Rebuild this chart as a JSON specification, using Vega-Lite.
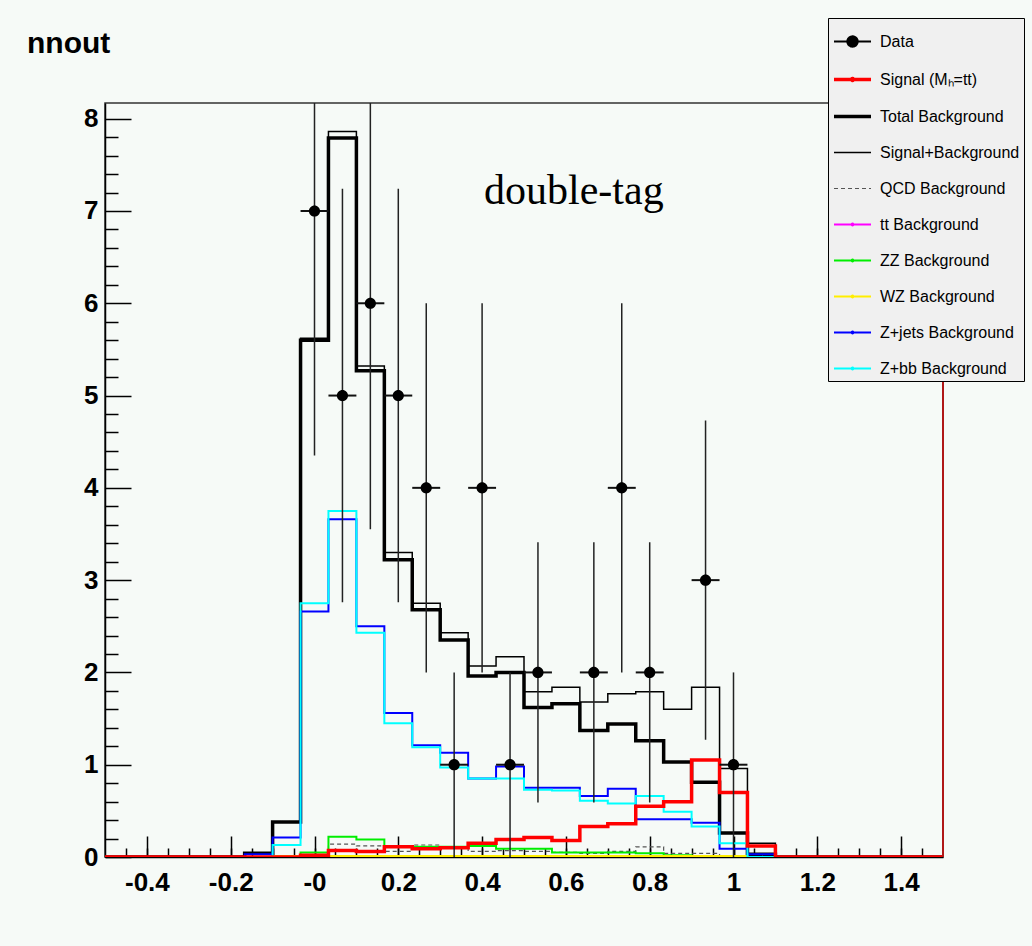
{
  "$schema": "https://vega.github.io/schema/vega-lite/v6.json",
  "width": 838,
  "height": 754,
  "autosize": {"type": "none"},
  "padding": {"left": 105, "top": 103, "right": 89, "bottom": 89},
  "background": "#f6faf7",
  "config": {"view": {"stroke": "#333333", "strokeWidth": 1.5}, "axis": {"grid": false}},
  "title": {"text": "nnout", "anchor": "start", "frame": "group", "dx": -78, "offset": 0, "dy": 65, "baseline": "alphabetic", "font": "Liberation Sans", "fontWeight": "bold", "fontSize": 30, "color": "#000000"},
  "datasets": {
    "hist": [
      {"lo": -0.5, "tot": 0, "sb": 0, "sig": 0, "qcd": 0, "tt": 0, "zz": 0, "wz": 0, "zjets": 0, "zbb": 0},
      {"lo": -0.4333, "tot": 0, "sb": 0, "sig": 0, "qcd": 0, "tt": 0, "zz": 0, "wz": 0, "zjets": 0, "zbb": 0},
      {"lo": -0.3667, "tot": 0, "sb": 0, "sig": 0, "qcd": 0, "tt": 0, "zz": 0, "wz": 0, "zjets": 0, "zbb": 0},
      {"lo": -0.3, "tot": 0, "sb": 0, "sig": 0, "qcd": 0, "tt": 0, "zz": 0, "wz": 0, "zjets": 0, "zbb": 0},
      {"lo": -0.2333, "tot": 0, "sb": 0, "sig": 0, "qcd": 0, "tt": 0, "zz": 0, "wz": 0, "zjets": 0, "zbb": 0},
      {"lo": -0.1667, "tot": 0.04, "sb": 0.04, "sig": 0, "qcd": 0, "tt": 0, "zz": 0, "wz": 0, "zjets": 0.03, "zbb": 0},
      {"lo": -0.1, "tot": 0.38, "sb": 0.38, "sig": 0, "qcd": 0, "tt": 0, "zz": 0.01, "wz": 0.01, "zjets": 0.21, "zbb": 0.13},
      {"lo": -0.0333, "tot": 5.6, "sb": 5.62, "sig": 0.02, "qcd": 0.02, "tt": 0, "zz": 0.05, "wz": 0.01, "zjets": 2.66, "zbb": 2.75},
      {"lo": 0.0333, "tot": 7.79, "sb": 7.86, "sig": 0.07, "qcd": 0.14, "tt": 0.005, "zz": 0.22, "wz": 0.01, "zjets": 3.66, "zbb": 3.75},
      {"lo": 0.1, "tot": 5.27, "sb": 5.32, "sig": 0.06, "qcd": 0.12, "tt": 0.005, "zz": 0.19, "wz": 0.01, "zjets": 2.5, "zbb": 2.43},
      {"lo": 0.1667, "tot": 3.22, "sb": 3.3, "sig": 0.11, "qcd": 0.06, "tt": 0.005, "zz": 0.12, "wz": 0.01, "zjets": 1.56, "zbb": 1.45},
      {"lo": 0.2333, "tot": 2.68, "sb": 2.75, "sig": 0.09, "qcd": 0.13, "tt": 0.005, "zz": 0.11, "wz": 0.01, "zjets": 1.21, "zbb": 1.19},
      {"lo": 0.3, "tot": 2.35, "sb": 2.43, "sig": 0.1, "qcd": 0.11, "tt": 0.005, "zz": 0.11, "wz": 0.01, "zjets": 1.13, "zbb": 0.97},
      {"lo": 0.3667, "tot": 1.96, "sb": 2.07, "sig": 0.15, "qcd": 0.06, "tt": 0.005, "zz": 0.12, "wz": 0.01, "zjets": 0.85, "zbb": 0.85},
      {"lo": 0.4333, "tot": 2.0, "sb": 2.17, "sig": 0.19, "qcd": 0.07, "tt": 0, "zz": 0.09, "wz": 0.01, "zjets": 0.98, "zbb": 0.85},
      {"lo": 0.5, "tot": 1.62, "sb": 1.79, "sig": 0.21, "qcd": 0.06, "tt": 0, "zz": 0.09, "wz": 0.01, "zjets": 0.75, "zbb": 0.73},
      {"lo": 0.5667, "tot": 1.66, "sb": 1.84, "sig": 0.18, "qcd": 0.05, "tt": 0, "zz": 0.05, "wz": 0.01, "zjets": 0.75, "zbb": 0.72},
      {"lo": 0.6333, "tot": 1.37, "sb": 1.68, "sig": 0.33, "qcd": 0.04, "tt": 0, "zz": 0.05, "wz": 0.01, "zjets": 0.66, "zbb": 0.61},
      {"lo": 0.7, "tot": 1.44, "sb": 1.77, "sig": 0.36, "qcd": 0.06, "tt": 0, "zz": 0.05, "wz": 0.01, "zjets": 0.74, "zbb": 0.58},
      {"lo": 0.7667, "tot": 1.26, "sb": 1.79, "sig": 0.55, "qcd": 0.11, "tt": 0, "zz": 0.04, "wz": 0.01, "zjets": 0.41, "zbb": 0.66},
      {"lo": 0.8333, "tot": 1.03, "sb": 1.6, "sig": 0.6, "qcd": 0.04, "tt": 0, "zz": 0.02, "wz": 0.01, "zjets": 0.41, "zbb": 0.49},
      {"lo": 0.9, "tot": 0.81, "sb": 1.84, "sig": 1.05, "qcd": 0.04, "tt": 0, "zz": 0.01, "wz": 0.01, "zjets": 0.37, "zbb": 0.33},
      {"lo": 0.9667, "tot": 0.26, "sb": 0.96, "sig": 0.7, "qcd": 0.01, "tt": 0, "zz": 0, "wz": 0.01, "zjets": 0.09, "zbb": 0.15},
      {"lo": 1.0333, "tot": 0.03, "sb": 0.15, "sig": 0.12, "qcd": 0, "tt": 0, "zz": 0, "wz": 0, "zjets": 0.03, "zbb": 0},
      {"lo": 1.1, "tot": 0, "sb": 0, "sig": 0, "qcd": 0, "tt": 0, "zz": 0, "wz": 0, "zjets": 0, "zbb": 0},
      {"lo": 1.1667, "tot": 0, "sb": 0, "sig": 0, "qcd": 0, "tt": 0, "zz": 0, "wz": 0, "zjets": 0, "zbb": 0},
      {"lo": 1.2333, "tot": 0, "sb": 0, "sig": 0, "qcd": 0, "tt": 0, "zz": 0, "wz": 0, "zjets": 0, "zbb": 0},
      {"lo": 1.3, "tot": 0, "sb": 0, "sig": 0, "qcd": 0, "tt": 0, "zz": 0, "wz": 0, "zjets": 0, "zbb": 0},
      {"lo": 1.3667, "tot": 0, "sb": 0, "sig": 0, "qcd": 0, "tt": 0, "zz": 0, "wz": 0, "zjets": 0, "zbb": 0},
      {"lo": 1.4333, "tot": 0, "sb": 0, "sig": 0, "qcd": 0, "tt": 0, "zz": 0, "wz": 0, "zjets": 0, "zbb": 0},
      {"lo": 1.5, "tot": 0, "sb": 0, "sig": 0, "qcd": 0, "tt": 0, "zz": 0, "wz": 0, "zjets": 0, "zbb": 0}
    ],
    "pts": [
      {"x": 0, "n": 7, "ylo": 4.35, "yhi": 9.65, "xlo": -0.0333, "xhi": 0.0333},
      {"x": 0.0667, "n": 5, "ylo": 2.76, "yhi": 7.24, "xlo": 0.0333, "xhi": 0.1},
      {"x": 0.1333, "n": 6, "ylo": 3.55, "yhi": 8.45, "xlo": 0.1, "xhi": 0.1667},
      {"x": 0.2, "n": 5, "ylo": 2.76, "yhi": 7.24, "xlo": 0.1667, "xhi": 0.2333},
      {"x": 0.2667, "n": 4, "ylo": 2, "yhi": 6, "xlo": 0.2333, "xhi": 0.3},
      {"x": 0.3333, "n": 1, "ylo": 0, "yhi": 2, "xlo": 0.3, "xhi": 0.3667},
      {"x": 0.4, "n": 4, "ylo": 2, "yhi": 6, "xlo": 0.3667, "xhi": 0.4333},
      {"x": 0.4667, "n": 1, "ylo": 0, "yhi": 2, "xlo": 0.4333, "xhi": 0.5},
      {"x": 0.5333, "n": 2, "ylo": 0.59, "yhi": 3.41, "xlo": 0.5, "xhi": 0.5667},
      {"x": 0.6667, "n": 2, "ylo": 0.59, "yhi": 3.41, "xlo": 0.6333, "xhi": 0.7},
      {"x": 0.7333, "n": 4, "ylo": 2, "yhi": 6, "xlo": 0.7, "xhi": 0.7667},
      {"x": 0.8, "n": 2, "ylo": 0.59, "yhi": 3.41, "xlo": 0.7667, "xhi": 0.8333},
      {"x": 0.9333, "n": 3, "ylo": 1.27, "yhi": 4.73, "xlo": 0.9, "xhi": 0.9667},
      {"x": 1.0, "n": 1, "ylo": 0, "yhi": 2, "xlo": 0.9667, "xhi": 1.0333}
    ]
  },
  "resolve": {"axis": {"x": "independent", "y": "independent"}},
  "layer": [
    {
      "data": {"values": [{"label": "double-tag"}]},
      "mark": {"type": "text", "font": "Liberation Serif", "fontSize": 42, "align": "center", "baseline": "alphabetic", "color": "#000000"},
      "encoding": {
        "x": {"datum": 0.619, "type": "quantitative", "scale": {"domain": [-0.5, 1.5], "nice": false, "zero": false},
          "axis": {"orient": "bottom", "values": [-0.45, -0.4, -0.35, -0.3, -0.25, -0.2, -0.15, -0.1, -0.05, 0, 0.05, 0.1, 0.15, 0.2, 0.25, 0.3, 0.35, 0.4, 0.45, 0.5, 0.55, 0.6, 0.65, 0.7, 0.75, 0.8, 0.85, 0.9, 0.95, 1, 1.05, 1.1, 1.15, 1.2, 1.25, 1.3, 1.35, 1.4, 1.45], "tickSize": -9, "tickColor": "#000000", "tickWidth": 1.5, "labels": false, "domain": false, "title": null, "grid": false}},
        "y": {"datum": 7.08, "type": "quantitative", "scale": {"domain": [0, 8.17], "nice": false, "zero": false},
          "axis": {"orient": "left", "values": [0.2, 0.4, 0.6, 0.8, 1.2, 1.4, 1.6, 1.8, 2.2, 2.4, 2.6, 2.8, 3.2, 3.4, 3.6, 3.8, 4.2, 4.4, 4.6, 4.8, 5.2, 5.4, 5.6, 5.8, 6.2, 6.4, 6.6, 6.8, 7.2, 7.4, 7.6, 7.8], "tickSize": -13, "tickColor": "#000000", "tickWidth": 1.5, "labels": false, "domain": false, "title": null, "grid": false}},
        "text": {"field": "label", "type": "nominal"}
      }
    },
    {
      "data": {"name": "hist"},
      "transform": [{"fold": ["tot", "sb", "qcd", "tt", "zz", "wz", "zjets", "zbb", "sig"], "as": ["series", "value"]}],
      "mark": {"type": "line", "interpolate": "step-after", "clip": true},
      "encoding": {
        "x": {"field": "lo", "type": "quantitative", "scale": {"domain": [-0.5, 1.5], "nice": false, "zero": false},
          "axis": {"orient": "bottom", "values": [-0.4, -0.2, 0, 0.2, 0.4, 0.6, 0.8, 1, 1.2, 1.4], "tickSize": -21, "tickColor": "#000000", "tickWidth": 1.5, "domainColor": "#000000", "domainWidth": 1.5, "labelFont": "Liberation Sans", "labelFontWeight": "bold", "labelFontSize": 26, "labelColor": "#000000", "labelPadding": 33, "labelFlush": false, "labelOverlap": false, "labelExpr": "datum.value == 0 ? '-0' : replace(format(datum.value, '~g'), '\u2212', '-')", "title": null, "grid": false}},
        "y": {"field": "value", "type": "quantitative", "scale": {"domain": [0, 8.17], "nice": false, "zero": false},
          "axis": {"orient": "left", "values": [0, 1, 2, 3, 4, 5, 6, 7, 8], "tickSize": -26, "tickColor": "#000000", "tickWidth": 1.5, "domainColor": "#000000", "domainWidth": 1.5, "labelFont": "Liberation Sans", "labelFontWeight": "bold", "labelFontSize": 26, "labelColor": "#000000", "labelPadding": 33, "labelFlush": false, "labelOverlap": false, "format": "d", "title": null, "grid": false}},
        "color": {"field": "series", "type": "nominal",
          "scale": {"domain": ["data", "sig", "tot", "sb", "qcd", "tt", "zz", "wz", "zjets", "zbb"], "range": ["#000000", "#ff0000", "#000000", "#000000", "#555555", "#ff00ff", "#00ee00", "#ffee00", "#0000ff", "#00ffff"]},
          "legend": {"title": null, "orient": "none", "legendX": 723, "legendY": -85, "symbolType": "stroke", "symbolSize": 1369, "symbolFillColor": "#000000", "labelFont": "Liberation Sans", "labelFontSize": 16, "labelColor": "#000000", "fillColor": "#f0f0f0", "strokeColor": "#000000", "padding": 4, "rowPadding": 8, "labelOffset": 7, "labelLimit": 400, "labelExpr": "{'data':'Data','sig':'Signal (Mₕ=tt)','tot':'Total Background','sb':'Signal+Background','qcd':'QCD Background','tt':'tt Background','zz':'ZZ Background','wz':'WZ Background','zjets':'Z+jets Background','zbb':'Z+bb Background'}[datum.label]"}},
        "strokeWidth": {"field": "series", "type": "nominal",
          "scale": {"type": "ordinal", "domain": ["data", "sig", "tot", "sb", "qcd", "tt", "zz", "wz", "zjets", "zbb"], "range": [2, 3.5, 3.5, 1.5, 1.2, 2, 2, 2, 2, 2]},
          "legend": {"title": null, "orient": "none", "legendX": 723, "legendY": -85, "symbolType": "stroke", "symbolSize": 1369, "symbolFillColor": "#000000", "labelFont": "Liberation Sans", "labelFontSize": 16, "labelColor": "#000000", "fillColor": "#f0f0f0", "strokeColor": "#000000", "padding": 4, "rowPadding": 8, "labelOffset": 7, "labelLimit": 400, "labelExpr": "{'data':'Data','sig':'Signal (Mₕ=tt)','tot':'Total Background','sb':'Signal+Background','qcd':'QCD Background','tt':'tt Background','zz':'ZZ Background','wz':'WZ Background','zjets':'Z+jets Background','zbb':'Z+bb Background'}[datum.label]"}},
        "strokeDash": {"field": "series", "type": "nominal",
          "scale": {"domain": ["data", "sig", "tot", "sb", "qcd", "tt", "zz", "wz", "zjets", "zbb"], "range": [[1, 0], [1, 0], [1, 0], [1, 0], [4, 3], [1, 0], [1, 0], [1, 0], [1, 0], [1, 0]]},
          "legend": {"title": null, "orient": "none", "legendX": 723, "legendY": -85, "symbolType": "stroke", "symbolSize": 1369, "symbolFillColor": "#000000", "labelFont": "Liberation Sans", "labelFontSize": 16, "labelColor": "#000000", "fillColor": "#f0f0f0", "strokeColor": "#000000", "padding": 4, "rowPadding": 8, "labelOffset": 7, "labelLimit": 400, "labelExpr": "{'data':'Data','sig':'Signal (Mₕ=tt)','tot':'Total Background','sb':'Signal+Background','qcd':'QCD Background','tt':'tt Background','zz':'ZZ Background','wz':'WZ Background','zjets':'Z+jets Background','zbb':'Z+bb Background'}[datum.label]"}}
      }
    },
    {
      "data": {"name": "pts"},
      "mark": {"type": "rule", "color": "#222222", "strokeWidth": 1.5, "clip": true},
      "encoding": {
        "x": {"field": "x", "type": "quantitative", "scale": {"domain": [-0.5, 1.5], "nice": false, "zero": false}, "axis": null},
        "y": {"field": "ylo", "type": "quantitative", "scale": {"domain": [0, 8.17], "nice": false, "zero": false}, "axis": null},
        "y2": {"field": "yhi"}
      }
    },
    {
      "data": {"name": "pts"},
      "mark": {"type": "rule", "color": "#111111", "strokeWidth": 2, "clip": true},
      "encoding": {
        "x": {"field": "xlo", "type": "quantitative", "scale": {"domain": [-0.5, 1.5], "nice": false, "zero": false}, "axis": null},
        "x2": {"field": "xhi"},
        "y": {"field": "n", "type": "quantitative", "scale": {"domain": [0, 8.17], "nice": false, "zero": false}, "axis": null}
      }
    },
    {
      "data": {"name": "pts"},
      "mark": {"type": "point", "filled": true, "size": 1600, "opacity": 1},
      "encoding": {
        "x": {"field": "x", "type": "quantitative", "scale": {"domain": [-0.5, 1.5], "nice": false, "zero": false}, "axis": null},
        "y": {"field": "n", "type": "quantitative", "scale": {"domain": [0, 8.17], "nice": false, "zero": false}, "axis": null},
        "color": {"datum": "data", "type": "nominal",
          "legend": {"title": null, "orient": "none", "legendX": 723, "legendY": -85, "symbolType": "stroke", "symbolSize": 1369, "symbolFillColor": "#000000", "labelFont": "Liberation Sans", "labelFontSize": 16, "labelColor": "#000000", "fillColor": "#f0f0f0", "strokeColor": "#000000", "padding": 4, "rowPadding": 8, "labelOffset": 7, "labelLimit": 400, "labelExpr": "{'data':'Data','sig':'Signal (Mₕ=tt)','tot':'Total Background','sb':'Signal+Background','qcd':'QCD Background','tt':'tt Background','zz':'ZZ Background','wz':'WZ Background','zjets':'Z+jets Background','zbb':'Z+bb Background'}[datum.label]"}},
        "shape": {"datum": "data", "type": "nominal",
          "scale": {"domain": ["data", "sig", "tot", "sb", "qcd", "tt", "zz", "wz", "zjets", "zbb"], "range": ["M-1,0H1M-0.28,0A0.28,0.28,0,1,0,0.28,0A0.28,0.28,0,1,0,-0.28,0Z", "M-1,0H1M-0.05,0A0.05,0.05,0,1,0,0.05,0A0.05,0.05,0,1,0,-0.05,0Z", "stroke", "stroke", "stroke", "M-1,0H1M-0.05,0A0.05,0.05,0,1,0,0.05,0A0.05,0.05,0,1,0,-0.05,0Z", "M-1,0H1M-0.05,0A0.05,0.05,0,1,0,0.05,0A0.05,0.05,0,1,0,-0.05,0Z", "M-1,0H1M-0.05,0A0.05,0.05,0,1,0,0.05,0A0.05,0.05,0,1,0,-0.05,0Z", "M-1,0H1M-0.05,0A0.05,0.05,0,1,0,0.05,0A0.05,0.05,0,1,0,-0.05,0Z", "M-1,0H1M-0.05,0A0.05,0.05,0,1,0,0.05,0A0.05,0.05,0,1,0,-0.05,0Z"]},
          "legend": {"title": null, "orient": "none", "legendX": 723, "legendY": -85, "symbolType": "stroke", "symbolSize": 1369, "symbolFillColor": "#000000", "labelFont": "Liberation Sans", "labelFontSize": 16, "labelColor": "#000000", "fillColor": "#f0f0f0", "strokeColor": "#000000", "padding": 4, "rowPadding": 8, "labelOffset": 7, "labelLimit": 400, "labelExpr": "{'data':'Data','sig':'Signal (Mₕ=tt)','tot':'Total Background','sb':'Signal+Background','qcd':'QCD Background','tt':'tt Background','zz':'ZZ Background','wz':'WZ Background','zjets':'Z+jets Background','zbb':'Z+bb Background'}[datum.label]"}}
      }
    },
    {
      "data": {"values": [{"edge": 1.5}]},
      "mark": {"type": "rule", "color": "#b01818", "strokeWidth": 2},
      "encoding": {
        "x": {"field": "edge", "type": "quantitative", "scale": {"domain": [-0.5, 1.5], "nice": false, "zero": false}, "axis": null}
      }
    }
  ]
}
